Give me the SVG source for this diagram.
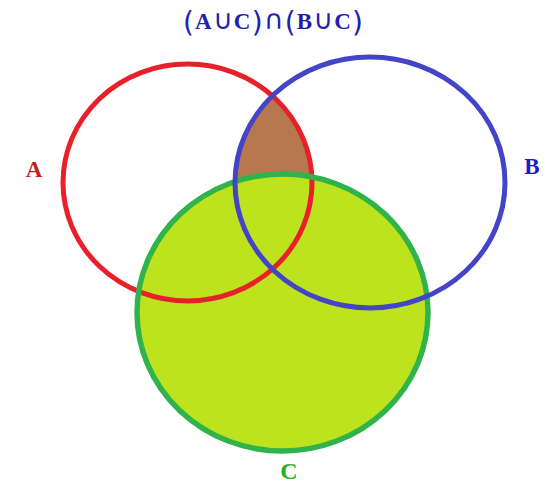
<svg xmlns="http://www.w3.org/2000/svg" width="552" height="488" viewBox="0 0 552 488">
  <style>
    .lbl { font-family: "Liberation Serif", "DejaVu Serif", serif; font-weight: bold; }
    .sym { font-family: "DejaVu Sans", "Liberation Sans", sans-serif; font-weight: normal; }
  </style>
  <defs>
    <clipPath id="clipA">
      <ellipse cx="187.5" cy="182.5" rx="124.5" ry="118.5"/>
    </clipPath>
  </defs>
  <rect width="552" height="488" fill="#ffffff"/>

  <!-- region fills: (A∩B) ∪ C -->
  <g id="fills">
    <ellipse cx="370" cy="182.5" rx="135" ry="125.5" fill="#b7784f" clip-path="url(#clipA)"/>
    <ellipse cx="282.5" cy="312.5" rx="145.5" ry="138.5" fill="#bde31e"/>
  </g>

  <g id="setA">
    <ellipse cx="187.5" cy="182.5" rx="124.5" ry="118.5" fill="none" stroke="#e8202a" stroke-width="5"/>
    <text class="lbl" x="34" y="177" font-size="23" fill="#c81e22" text-anchor="middle">A</text>
  </g>
  <g id="setC">
    <ellipse cx="282.5" cy="312.5" rx="145.5" ry="138.5" fill="none" stroke="#2fb34a" stroke-width="5.5"/>
    <text class="lbl" x="289" y="479" font-size="24" fill="#22b022" text-anchor="middle">C</text>
  </g>
  <g id="setB">
    <ellipse cx="370" cy="182.5" rx="135" ry="125.5" fill="none" stroke="#4444c8" stroke-width="5"/>
    <text class="lbl" x="532" y="174" font-size="23" fill="#1c1cc8" text-anchor="middle">B</text>
  </g>

  <g id="title">
    <text class="lbl" x="183" y="29" font-size="23" fill="#2020b0" textLength="180" lengthAdjust="spacing"><tspan class="sym" font-size="28" dy="3">(</tspan><tspan dy="-3">A</tspan><tspan class="sym" font-size="27">∪</tspan><tspan>C</tspan><tspan class="sym" font-size="28" dy="3">)</tspan><tspan class="sym" font-size="27" dy="-3">∩</tspan><tspan class="sym" font-size="28" dy="3">(</tspan><tspan dy="-3">B</tspan><tspan class="sym" font-size="27">∪</tspan><tspan>C</tspan><tspan class="sym" font-size="28" dy="3">)</tspan></text>
  </g>
</svg>
